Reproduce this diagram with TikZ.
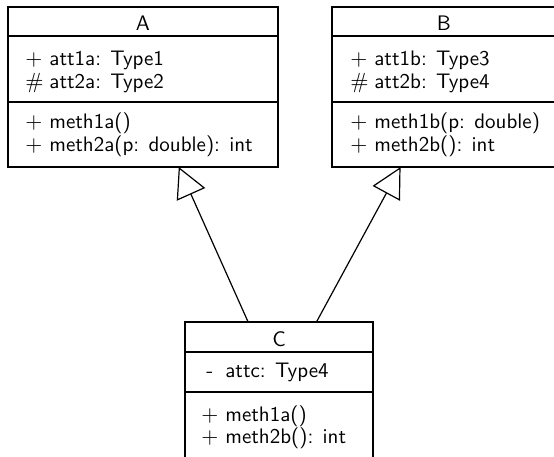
\documentclass[tikz,border=0pt]{standalone}
\usetikzlibrary{arrows.meta}
\newcommand\umlvis[1]{\makebox[12pt][l]{#1}}
\begin{document}
\begin{tikzpicture}[x=0.5pt,y=-0.5pt,
  classbox/.style={draw, line width=0.6pt, inner sep=0pt, outer sep=0pt},
  sepline/.style={line width=0.6pt},
  txt/.style={inner sep=0pt, font=\sffamily\fontsize{10.5}{12}\selectfont},
  member/.style={txt, anchor=base west},
  ctitle/.style={txt, anchor=base},
  inherit/.style={line width=0.6pt, -{Triangle[open,length=15pt,width=15.5pt]}}]
\clip (0,0) rectangle (554,457);
% class A
\node[classbox, minimum width=135pt, minimum height=80pt] (A) at (143,87) {};
\draw[sepline] (8,36) -- (278,36);
\draw[sepline] (8,102) -- (278,102);
\node[ctitle] (At) at (143,30) {A};
\node[member] (Aa1) at (25,65) {\umlvis{$+$}att1a: Type1};
\node[member] (Aa2) at (25,88) {\umlvis{$\#$}att2a: Type2};
\node[member] (Am1) at (25,128) {\umlvis{$+$}meth1a()};
\node[member] (Am2) at (25,151) {\umlvis{$+$}meth2a(p: double): int};
% class B
\node[classbox, minimum width=112pt, minimum height=80pt] (B) at (444,87) {};
\draw[sepline] (332,36) -- (556,36);
\draw[sepline] (332,102) -- (556,102);
\node[ctitle] (Bt) at (444,30) {B};
\node[member] (Ba1) at (350,65) {\umlvis{$+$}att1b: Type3};
\node[member] (Ba2) at (350,88) {\umlvis{$\#$}att2b: Type4};
\node[member] (Bm1) at (350,128) {\umlvis{$+$}meth1b(p: double)};
\node[member] (Bm2) at (350,151) {\umlvis{$+$}meth2b(): int};
% class C
\node[classbox, minimum width=94pt, minimum height=69pt] (C) at (279,391) {};
\draw[sepline] (185,352) -- (373,352);
\draw[sepline] (185,392) -- (373,392);
\node[ctitle] (Ct) at (279,346) {C};
\node[member] (Ca1) at (201,377) {\umlvis{\hspace{2.5pt}-}attc: Type4};
\node[member] (Cm1) at (201,421) {\umlvis{$+$}meth1a()};
\node[member] (Cm2) at (201,443) {\umlvis{$+$}meth2b(): int};
% inheritance
\draw[inherit] (C) -- (A);
\draw[inherit] (C) -- (B);
\end{tikzpicture}
\end{document}
